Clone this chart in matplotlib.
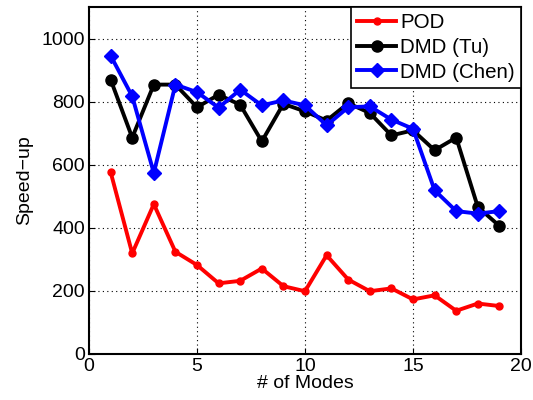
import matplotlib
matplotlib.use("Agg")
import matplotlib.pyplot as plt

modes = list(range(1, 20))
pod = [577, 319, 475, 324, 282, 224, 232, 271, 215, 199, 313, 236, 199, 208, 173, 186, 137, 160, 152]
dmd_tu = [870, 686, 854, 854, 782, 822, 790, 674, 793, 769, 740, 795, 764, 693, 709, 646, 686, 466, 406]
dmd_chen = [946, 817, 574, 854, 830, 781, 838, 788, 804, 788, 725, 782, 785, 743, 714, 519, 453, 445, 453]

plt.rcParams['font.family'] = ['Liberation Sans', 'DejaVu Sans']
fig = plt.figure(figsize=(5.33, 4.0), dpi=100)
ax = fig.add_axes([0.167, 0.115, 0.8105, 0.8675])

ax.plot(modes, pod, color='#ff0000', lw=2.8, marker='o', ms=5, label='POD')
ax.plot(modes, dmd_tu, color='black', lw=2.8, marker='o', ms=8, label='DMD (Tu)')
ax.plot(modes, dmd_chen, color='#0000ff', lw=2.8, marker='D', ms=7, label='DMD (Chen)')

ax.set_xlim(0, 20)
ax.set_ylim(0, 1100)
ax.set_xticks([0, 5, 10, 15, 20])
ax.set_yticks([0, 200, 400, 600, 800, 1000])
ax.grid(True, linestyle=(0, (1, 3)), color='black', lw=0.8)
ax.tick_params(direction='in', labelsize=14, length=4, pad=3)
for s in ax.spines.values():
    s.set_linewidth(1.5)
ax.set_xlabel('# of Modes', fontsize=14, labelpad=0)
ax.set_ylabel('Speed\u2212up', fontsize=14, labelpad=6)
leg = ax.legend(loc='upper right', fontsize=14.8, fancybox=False, framealpha=1,
                edgecolor='black', borderaxespad=0.0, handlelength=1.9,
                handletextpad=0.2, labelspacing=0.28, borderpad=0.3)
leg.get_frame().set_linewidth(1.2)
fig.savefig('out.png', dpi=100)
